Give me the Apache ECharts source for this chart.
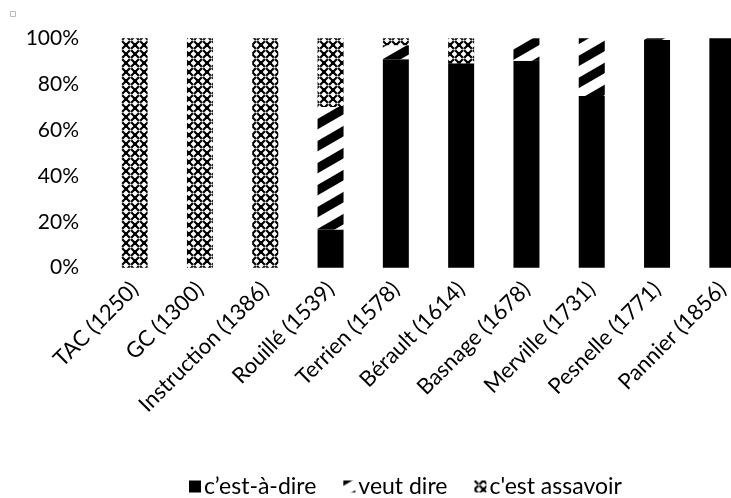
<!DOCTYPE html>
<html>
<head>
<meta charset="utf-8">
<script src="https://cdn.jsdelivr.net/npm/echarts@6/dist/echarts.min.js"></script>
<style>
html,body{margin:0;padding:0;background:#fff;}
#c{width:731px;height:498px;}
</style>
</head>
<body>
<div id="c"></div>
<script>
var categories = ['TAC (1250)','GC (1300)','Instruction (1386)','Rouillé (1539)','Terrien (1578)','Bérault (1614)','Basnage (1678)','Merville (1731)','Pesnelle (1771)','Pannier (1856)'];
var cestADire = [0, 0, 0, 16.7, 90.9, 89.1, 90.2, 74.8, 99.3, 100];
var veutDire = [0, 0, 0, 53.3, 6.1, 0, 9.8, 25.2, 0.7, 0];
var cestAssavoir = [100, 100, 100, 30.0, 3.0, 10.9, 0, 0, 0, 0];
var yTicks = [0, 20, 40, 60, 80, 100];
var seriesNames = ['c\u2019est-\u00e0-dire', 'veut dire', "c'est assavoir"];

function stripeCanvas(){
  var w = 38, h = 22;
  var c = document.createElement('canvas'); c.width = w; c.height = h;
  var g = c.getContext('2d');
  g.fillStyle = '#fff'; g.fillRect(0,0,w,h);
  g.strokeStyle = '#000'; g.lineWidth = 9;
  for (var k = -2; k <= 2; k++) {
    g.beginPath();
    g.moveTo(-w, h + h + k*h);
    g.lineTo(2*w, -h + k*h);
    g.stroke();
  }
  return c;
}
function hatchCanvas(){
  var s = 9;
  var c = document.createElement('canvas'); c.width = s; c.height = s;
  var g = c.getContext('2d');
  g.fillStyle = '#fff'; g.fillRect(0,0,s,s);
  g.strokeStyle = '#000'; g.lineWidth = 2.2;
  g.beginPath(); g.moveTo(0,0); g.lineTo(s,s); g.stroke();
  g.beginPath(); g.moveTo(s,0); g.lineTo(0,s); g.stroke();
  g.fillStyle = '#000';
  g.fillRect(0,0,2,2); g.fillRect(s-2,0,2,2); g.fillRect(0,s-2,2,2); g.fillRect(s-2,s-2,2,2);
  g.fillStyle = '#fff';
  g.beginPath(); g.arc(s/2, s/2, 1.1, 0, Math.PI*2); g.fill();
  return c;
}
var stripePattern = {image: stripeCanvas(), repeat: 'repeat'};
var hatchPattern = {image: hatchCanvas(), repeat: 'repeat'};

var font = 'Lato';
var chart = echarts.init(document.getElementById('c'), null, {renderer: 'canvas'});
chart.setOption({
  animation: false,
  backgroundColor: '#fff',
  graphic: [{type: 'rect', left: 10, top: 11, shape: {width: 5, height: 5}, style: {fill: '#fff', stroke: '#bbb', lineWidth: 1}}],
  grid: {left: 102, top: 38.3, width: 653, height: 229.4, containLabel: false, outerBoundsMode: 'none'},
  legend: {
    data: seriesNames,
    top: 470,
    left: 184,
    itemWidth: 12, itemHeight: 12, itemGap: 27,
    icon: 'rect',
    textStyle: {fontFamily: font, fontSize: 23, color: '#000', padding: [0,0,0,-2]}
  },
  xAxis: {
    type: 'category',
    data: categories,
    axisLine: {show: false},
    axisTick: {show: false},
    axisLabel: {rotate: 45, margin: 18, interval: 0, fontFamily: font, fontSize: 22, color: '#000'}
  },
  yAxis: {
    type: 'value',
    min: yTicks[0], max: yTicks[yTicks.length-1], interval: yTicks[1]-yTicks[0],
    axisLine: {show: false},
    axisTick: {show: false},
    splitLine: {show: false},
    axisLabel: {formatter: '{value}%', margin: 23, fontFamily: font, fontSize: 21, color: '#000'}
  },
  series: [
    {name: seriesNames[0], type: 'bar', stack: 's', data: cestADire, barWidth: 26, itemStyle: {color: '#000'}},
    {name: seriesNames[1], type: 'bar', stack: 's', data: veutDire, barWidth: 26, itemStyle: {color: stripePattern}},
    {name: seriesNames[2], type: 'bar', stack: 's', data: cestAssavoir, barWidth: 26, itemStyle: {color: hatchPattern}}
  ]
});
</script>
</body>
</html>
